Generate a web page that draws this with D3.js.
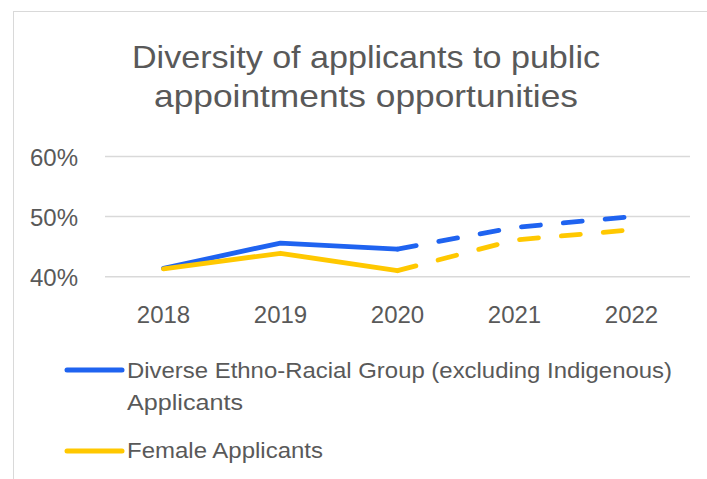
<!DOCTYPE html>
<html>
<head>
<meta charset="utf-8">
<script src="https://cdn.jsdelivr.net/npm/d3@7"></script>
<style>
  html, body { margin: 0; padding: 0; background: #fff; }
  svg { display: block; }
  text { font-family: "Liberation Sans", Arial, sans-serif; fill: #595959; }
</style>
</head>
<body>
<svg id="chart" width="707" height="479"></svg>
<script>
// ---- data ----
const titleLines = ["Diversity of applicants to public", "appointments opportunities"];
const years = ["2018", "2019", "2020", "2021", "2022"];
const diverseValues = [41.4, 45.6, 44.6, 48.2, 50.0];
const femaleValues = [41.3, 43.9, 41.0, 46.1, 47.8];
const yTicks = [40, 50, 60];
const projectedFromYear = "2020";
const seriesNames = [
  ["Diverse Ethno-Racial Group (excluding Indigenous)", "Applicants"],
  ["Female Applicants"]
];
const seriesColors = ["#1f63f0", "#ffc800"];

// ---- layout ----
const svg = d3.select("#chart");
const W = 707, H = 479;
const plot = { left: 105, right: 690, top: 156.5, bottom: 276.7 };

svg.append("rect").attr("x", 0).attr("y", 0).attr("width", W).attr("height", H).attr("fill", "#fff");
svg.append("rect").attr("x", 13.5).attr("y", 11.5).attr("width", 760).attr("height", 520)
  .attr("fill", "#fff").attr("stroke", "#d9d9d9").attr("stroke-width", 1);

// title
const titleBaselines = [68, 107];
const titleWidths = [468, 424];
titleLines.forEach((t, i) => {
  svg.append("text").attr("x", 366).attr("y", titleBaselines[i])
    .attr("text-anchor", "middle").attr("font-size", 32)
    .attr("textLength", titleWidths[i]).attr("lengthAdjust", "spacingAndGlyphs")
    .text(t);
});

const x = d3.scaleBand().domain(years).range([plot.left, plot.right]).padding(0);
const y = d3.scaleLinear().domain([40, 60]).range([plot.bottom, plot.top]);

// gridlines
svg.append("g").selectAll("line").data(yTicks).join("line")
  .attr("x1", plot.left).attr("x2", plot.right)
  .attr("y1", d => y(d)).attr("y2", d => y(d))
  .attr("stroke", "#d9d9d9").attr("stroke-width", 1.5);

// y axis labels
const yAxis = d3.axisLeft(y).tickValues(yTicks).tickSize(0).tickPadding(27)
  .tickFormat(d => d + "%");
const gy = svg.append("g").attr("transform", `translate(${plot.left},0)`).call(yAxis);
gy.select(".domain").remove();
gy.selectAll("text").attr("font-size", 24).attr("fill", "#595959")
  .attr("font-family", "Liberation Sans, Arial, sans-serif").attr("dy", "0.36em");

// x axis labels
const xAxis = d3.axisBottom(x).tickSize(0).tickPadding(0);
const gx = svg.append("g").attr("transform", `translate(0,${plot.bottom})`).call(xAxis);
gx.select(".domain").remove();
gx.selectAll("text").attr("font-size", 24).attr("fill", "#595959")
  .attr("font-family", "Liberation Sans, Arial, sans-serif")
  .attr("dy", null).attr("y", 46.5);

// lines
const cx = yr => x(yr) + x.bandwidth() / 2;
const line = d3.line().x(d => cx(d.year)).y(d => y(d.value));
const splitIdx = years.indexOf(projectedFromYear);
[diverseValues, femaleValues].forEach((vals, si) => {
  const pts = years.map((yr, i) => ({ year: yr, value: vals[i] }));
  svg.append("path").attr("d", line(pts.slice(0, splitIdx + 1)))
    .attr("fill", "none").attr("stroke", seriesColors[si]).attr("stroke-width", 4.8)
    .attr("stroke-linejoin", "round").attr("stroke-linecap", "round");
  svg.append("path").attr("d", line(pts.slice(splitIdx)))
    .attr("fill", "none").attr("stroke", seriesColors[si]).attr("stroke-width", 4.8)
    .attr("stroke-linejoin", "round").attr("stroke-linecap", "round")
    .attr("stroke-dasharray", "19,23");
});

// legend
const legendItems = [
  { lineY: 370, baselines: [378, 410], widths: [545, 116] },
  { lineY: 451, baselines: [458], widths: [196] }
];
legendItems.forEach((it, i) => {
  svg.append("line").attr("x1", 67).attr("x2", 122).attr("y1", it.lineY).attr("y2", it.lineY)
    .attr("stroke", seriesColors[i]).attr("stroke-width", 5).attr("stroke-linecap", "round");
  seriesNames[i].forEach((t, j) => {
    svg.append("text").attr("x", 127).attr("y", it.baselines[j]).attr("font-size", 22)
      .attr("textLength", it.widths[j]).attr("lengthAdjust", "spacingAndGlyphs").text(t);
  });
});
</script>
</body>
</html>
